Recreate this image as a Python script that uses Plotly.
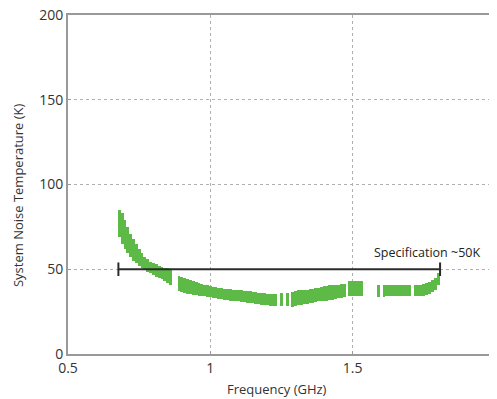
import plotly.graph_objects as go

# Measured system noise temperature band (K) vs frequency (GHz); gaps = missing data
freq = [0.68, 0.69, 0.70, 0.71, 0.72, 0.73, 0.74, 0.75, 0.76, 0.77, 0.78, 0.79, 0.80,
        0.81, 0.82, 0.83, 0.84, 0.85, 0.86,
        0.89, 0.90, 0.91, 0.92, 0.93, 0.94, 0.95, 0.96, 0.97, 0.98, 0.99, 1.00,
        1.01, 1.02, 1.03, 1.04, 1.05, 1.06, 1.07, 1.08, 1.09, 1.10, 1.11, 1.12,
        1.13, 1.14, 1.15, 1.16, 1.17, 1.18, 1.19, 1.20, 1.21, 1.22, 1.23,
        1.25, 1.27,
        1.29, 1.30, 1.31, 1.32, 1.33, 1.34, 1.35, 1.36, 1.37, 1.38, 1.39, 1.40,
        1.41, 1.42, 1.43, 1.44, 1.45, 1.46, 1.47,
        1.49, 1.50, 1.51, 1.52, 1.53,
        1.59, 1.61,
        1.62, 1.63, 1.64, 1.65, 1.66, 1.67, 1.68, 1.69, 1.70,
        1.72, 1.73, 1.74, 1.75, 1.76, 1.77, 1.78, 1.79, 1.80]
t_upper = [85, 83, 79, 75, 71, 68, 65, 62, 59.5, 57.5, 56, 54.5, 53.5,
           53, 52, 51.5, 51, 50.5, 50,
           46, 45.5, 45, 44, 43.5, 43, 42.5, 42, 41.5, 41, 40.5, 40,
           39.5, 39.5, 39, 39, 38.5, 38.5, 38.5, 38, 38, 37.5, 37.5, 37,
           37, 37, 36.5, 36.5, 36, 36, 36, 35.5, 35.5, 35.5, 35.5,
           36, 36,
           36.5, 37, 37.5, 37.5, 38, 38, 38.5, 38.5, 39, 39, 39.5, 40,
           40, 40.5, 40.5, 41, 41, 41.5, 41.5,
           43, 43, 43, 43, 43,
           40.5, 40.5,
           41, 41, 41, 41, 41, 41, 41, 41, 41,
           41, 41, 41, 41.5, 42, 42.5, 43.5, 45, 47.5]
t_lower = [69, 65, 62, 59.5, 57, 55, 53.5, 52, 50.5, 49.5, 48.5, 47.5, 46.5,
           45.5, 45, 44, 43, 42, 41,
           37, 36.5, 36, 35.5, 35.5, 35, 35, 34.5, 34, 34, 33.5, 33.5,
           33, 33, 32.5, 32.5, 32, 32, 31.5, 31.5, 31, 31, 30.5, 30.5,
           30, 30, 30, 29.5, 29.5, 29, 29, 29, 28.5, 28.5, 28.5,
           28.5, 28.5,
           28, 28.5, 29, 29, 29.5, 29.5, 30, 30, 30.5, 31, 31, 31.5,
           31.5, 32, 32, 32.5, 33, 33, 33.5,
           34.5, 34.5, 34.5, 34.5, 34.5,
           33.5, 33.5,
           34, 34, 34, 34, 34, 34, 34, 34, 34,
           34, 34, 34, 34.5, 35, 35.5, 36.5, 38, 40.5]

spec_freq = [0.677, 1.807]
spec_value = [50, 50]
spec_label = "Specification ~50K"

x_ticks = [0.5, 1, 1.5, 2]
x_ticktext = ["0.5", "1", "1.5", "2"]
y_ticks = [0, 50, 100, 150, 200]
x_title = "Frequency (GHz)"
y_title = "System Noise Temperature (K)"

green = "#5dba47"
text_color = "#333333"
fig = go.Figure()
fig.add_trace(go.Bar(
    x=freq,
    y=[u - l for u, l in zip(t_upper, t_lower)],
    base=t_lower,
    width=0.0101,
    marker=dict(color=green, line=dict(width=0)),
    showlegend=False,
))
fig.add_trace(go.Scatter(
    x=spec_freq, y=spec_value, mode="lines",
    line=dict(color="#2b2b2b", width=2),
    error_y=dict(type="constant", value=4, thickness=2, width=0, color="#2b2b2b"),
    showlegend=False,
))
fig.add_annotation(x=1.76, y=60, text=spec_label, showarrow=False,
                   font=dict(size=12.5, color="#222"))
fig.add_annotation(x=0.49, y=0, xref="paper", yref="paper", xanchor="center",
                   yanchor="middle", yshift=-35, text=x_title, showarrow=False,
                   font=dict(size=13, color=text_color))
fig.add_annotation(x=-0.117, y=0.469, xref="paper", yref="paper", xanchor="center",
                   yanchor="middle", textangle=-90,
                   text=y_title, showarrow=False,
                   font=dict(size=13, color=text_color))

font_family = "Open Sans, sans-serif"
axis_common = dict(showgrid=True, gridcolor="#b0b0b0", griddash="dot", gridwidth=1,
                   showline=True, linecolor="#999", linewidth=2, mirror=True,
                   ticks="inside", ticklen=3, tickcolor="#999", zeroline=False,
                   automargin=False, ticklabeloverflow="allow",
                   tickfont=dict(size=14, color=text_color))
# page body has an 8px default margin, so the figure is 8px smaller and margins shifted
fig.update_layout(
    width=489, height=391,
    margin=dict(l=60, r=2, t=7, b=45, autoexpand=False),
    plot_bgcolor="white", paper_bgcolor="white",
    font=dict(family=font_family, size=13, color=text_color),
    bargap=0,
    xaxis=dict(range=[0.5, 2], tickvals=x_ticks, ticktext=x_ticktext, **axis_common),
    yaxis=dict(range=[0, 200], tickvals=y_ticks, **axis_common),
)
fig.write_html("out.html")
